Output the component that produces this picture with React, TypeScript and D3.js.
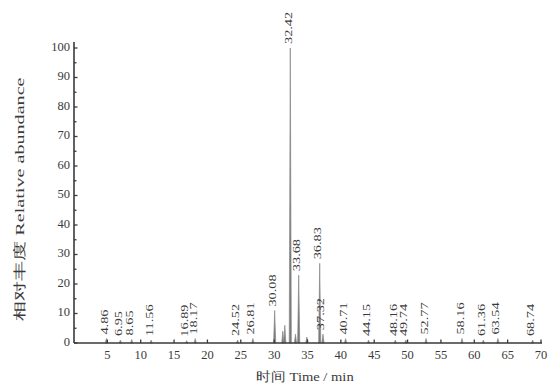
import * as d3 from 'd3';
import { useEffect, useRef } from 'react';

// peak retention times (min) and heights (% relative abundance)
const peakTimes = [4.86, 6.95, 8.65, 11.56, 16.89, 18.17, 24.52, 26.81, 30.08, 31.3, 31.6, 32.42, 33.2, 33.68, 34.9, 36.83, 37.32, 40.71, 44.15, 48.16, 49.74, 52.77, 58.16, 61.36, 63.54, 68.74];
const peakHeights = [1.5, 1, 1.2, 1, 0.8, 1.5, 1, 1.5, 11, 4, 6, 100, 3, 23, 2, 27, 3, 1.5, 1, 1, 1, 1.5, 1.5, 1, 1.5, 1];
// peaks that carry a retention time label
const labelledTimes = [4.86, 6.95, 8.65, 11.56, 16.89, 18.17, 24.52, 26.81, 30.08, 32.42, 33.68, 36.83, 37.32, 40.71, 44.15, 48.16, 49.74, 52.77, 58.16, 61.36, 63.54, 68.74];
const xTicks = [5, 10, 15, 20, 25, 30, 35, 40, 45, 50, 55, 60, 65, 70];
const yTicks = [0, 10, 20, 30, 40, 50, 60, 70, 80, 90, 100];

const App = () => {
    const svgRef = useRef<SVGSVGElement | null>(null);

    useEffect(() => {
        const width = 548;
        const height = 391;
        const margin = { top: 48, right: 7, bottom: 48, left: 74 };

        const svg = d3.select(svgRef.current);
        svg.selectAll('*').remove();
        svg.attr('width', width).attr('height', height);

        const x = d3.scaleLinear().domain([0, 70]).range([margin.left, width - margin.right]);
        const y = d3.scaleLinear().domain([0, 100]).range([height - margin.bottom, margin.top]);

        const font = "'Liberation Serif', 'DejaVu Serif', serif";
        const ink = '#3a3a3a';

        // peaks as thin triangles
        const halfW = 0.16;
        peakTimes.forEach((t, i) => {
            const h = peakHeights[i];
            const p = d3.path();
            p.moveTo(x(t - halfW), y(0));
            p.lineTo(x(t), y(h));
            p.lineTo(x(t + halfW), y(0));
            p.closePath();
            svg.append('path')
                .attr('d', p.toString())
                .attr('fill', '#777')
                .attr('stroke', '#8a8a8a')
                .attr('stroke-width', 0.7);
        });

        // peak labels, vertical (glyphs stretched along the text like the scan)
        labelledTimes.forEach((t) => {
            const idx = peakTimes.indexOf(t);
            const h = peakHeights[idx];
            const lx = x(t) - 1;
            const ly = y(h) - 4;
            svg.append('text')
                .attr('transform', `translate(${lx},${ly}) rotate(-90) scale(1.3,1)`)
                .attr('dominant-baseline', 'middle')
                .attr('text-anchor', 'start')
                .style('font-family', font)
                .style('font-size', '11px')
                .style('fill', ink)
                .text(t.toFixed(2));
        });

        // axes lines
        svg.append('line')
            .attr('x1', x(0)).attr('x2', x(0))
            .attr('y1', y(0)).attr('y2', y(100) - 6)
            .attr('stroke', ink).attr('stroke-width', 1.6);
        svg.append('line')
            .attr('x1', x(0)).attr('x2', x(70) + 1)
            .attr('y1', y(0)).attr('y2', y(0))
            .attr('stroke', ink).attr('stroke-width', 1.6);

        // y ticks (major + minor)
        d3.range(0, 101, 5).forEach((v) => {
            svg.append('line')
                .attr('x1', x(0)).attr('x2', x(0) + (v % 10 === 0 ? 3.5 : 2.5))
                .attr('y1', y(v)).attr('y2', y(v))
                .attr('stroke', ink).attr('stroke-width', 1.3);
        });
        yTicks.forEach((v) => {
            svg.append('text')
                .attr('x', x(0) - 4)
                .attr('y', y(v))
                .attr('text-anchor', 'end')
                .attr('dominant-baseline', 'middle')
                .style('font-family', font)
                .style('font-size', '12.5px')
                .style('fill', ink)
                .text(v);
        });

        // x ticks
        xTicks.forEach((v) => {
            svg.append('line')
                .attr('x1', x(v)).attr('x2', x(v))
                .attr('y1', y(0)).attr('y2', y(0) - 3.5)
                .attr('stroke', ink).attr('stroke-width', 1.3);
            svg.append('text')
                .attr('x', x(v))
                .attr('y', y(0) + 13)
                .attr('text-anchor', 'middle')
                .attr('dominant-baseline', 'middle')
                .style('font-family', font)
                .style('font-size', '12.5px')
                .style('fill', ink)
                .text(v);
        });

        // axis titles
        svg.append('text')
            .attr('transform', `translate(21,${(y(0) + y(100)) / 2 + 4}) rotate(-90) scale(1.55,1)`)
            .attr('text-anchor', 'middle')
            .attr('dominant-baseline', 'middle')
            .style('font-family', font)
            .style('font-size', '13px')
            .style('fill', ink)
            .text('相对丰度 Relative abundance');
        svg.append('text')
            .attr('transform', 'translate(305,378) scale(1.12,1)')
            .attr('text-anchor', 'middle')
            .attr('dominant-baseline', 'middle')
            .style('font-family', font)
            .style('font-size', '13px')
            .style('fill', ink)
            .text('时间 Time / min');
    }, []);

    return <svg ref={svgRef} style={{ position: 'absolute', left: 0, top: 0, background: '#fff' }} />;
};

export default App;
